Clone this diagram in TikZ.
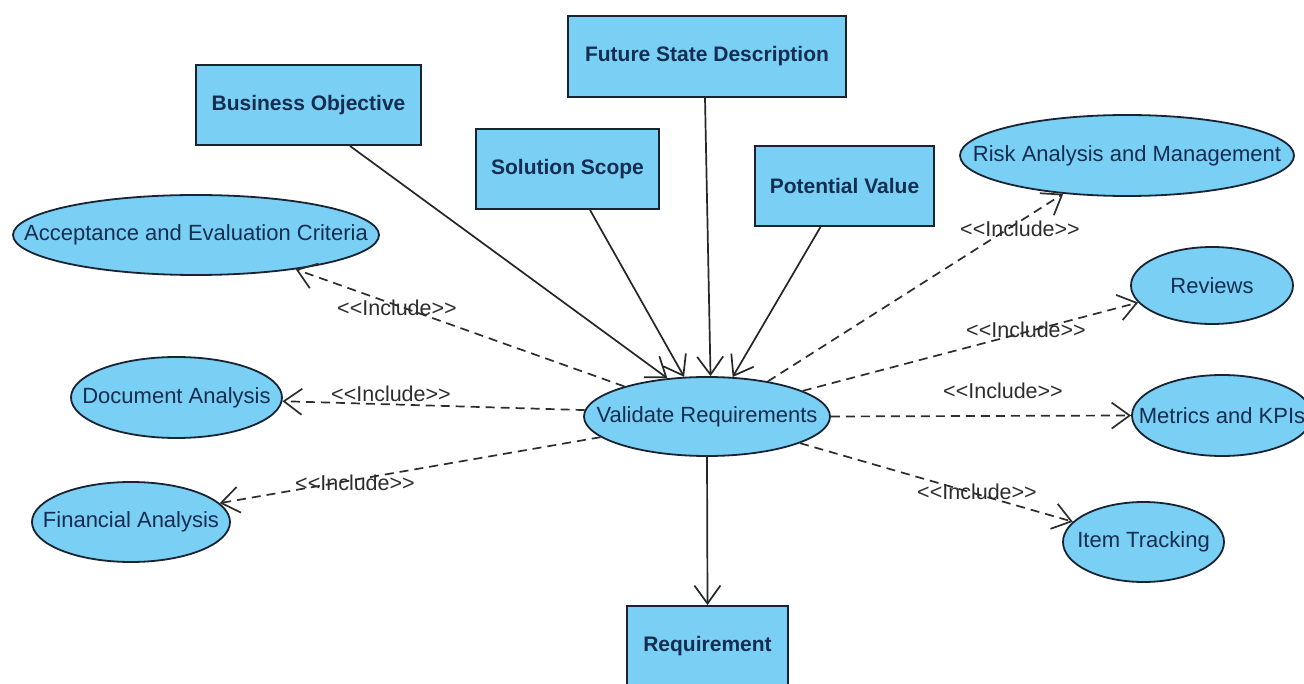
\documentclass[tikz,border=0pt]{standalone}
\usepackage{fontspec}
\setmainfont{Liberation Sans}[Ligatures=TeXOff]
\usetikzlibrary{shapes.geometric,arrows.meta}
\definecolor{ucfill}{RGB}{122,207,245}
\definecolor{ucline}{RGB}{25,35,50}
\definecolor{uctext}{RGB}{20,45,80}
\definecolor{linkgray}{RGB}{45,45,45}
% centred text that does not widen its ellipse
\newcommand\ctext[1]{\makebox[0pt]{#1}}

\begin{document}
\begin{tikzpicture}[x=1pt,y=-1pt,
  every node/.style={font=\fontsize{21.5}{24}\selectfont},
  box/.style={draw=ucline,line width=2pt,fill=ucfill,rectangle,inner sep=0pt,
    text=uctext,font=\fontsize{21}{24}\selectfont\bfseries},
  usecase/.style={draw=ucline,line width=1.8pt,fill=ucfill,ellipse,inner sep=0pt,
    text=uctext,font=\fontsize{22}{24}\selectfont},
  assoc/.style={draw=black!85,line width=1.7pt,-{Straight Barb[length=18pt,width=26pt]}},
  incl/.style={draw=linkgray,line width=1.7pt,dash pattern=on 9pt off 6pt,
    -{Straight Barb[length=18pt,width=26pt]}},
  incltext/.style={text=linkgray,inner sep=0pt}]

\useasboundingbox (0,0) rectangle (1304,684);
\fill[white] (0,0) rectangle (1304,684);

% classes
\node[box,minimum width=225,minimum height=80] (bo)  at (308.5,105) {Business Objective};
\node[box,minimum width=278,minimum height=81] (fsd) at (707,56.5)  {Future State Description};
\node[box,minimum width=183,minimum height=80] (ss)  at (567.5,169) {Solution Scope};
\node[box,minimum width=179,minimum height=80] (pv)  at (844.5,186) {Potential Value};
\node[box,minimum width=161,minimum height=80] (req) at (707.5,646) {Requirement};

% use cases
\node[usecase,minimum width=366,minimum height=80] (acc)  at (196,235)    {\ctext{Acceptance and Evaluation Criteria}};
\node[usecase,minimum width=334,minimum height=81] (risk) at (1127,155.5) {\ctext{Risk Analysis and Management}};
\node[usecase,minimum width=162,minimum height=77] (rev)  at (1212,285.5) {\ctext{Reviews}};
\node[usecase,minimum width=211,minimum height=81] (doc)  at (176.5,397.5) {\ctext{Document Analysis}};
\node[usecase,minimum width=246,minimum height=79] (val)  at (707,416.5)  {\ctext{Validate Requirements}};
\node[usecase,minimum width=180,minimum height=81] (met)  at (1222,415.5) {\ctext{Metrics and KPIs}};
\node[usecase,minimum width=198,minimum height=80] (fin)  at (131,522)    {\ctext{Financial Analysis}};
\node[usecase,minimum width=161,minimum height=80] (item) at (1143.5,542)  {\ctext{Item Tracking}};

% associations
\draw[assoc] ([xshift=41.5]bo.south) -- (val.136);
\draw[assoc] ([xshift=22.5]ss.south) -- (val.120);
\draw[assoc] ([xshift=-2]fsd.south)  -- (val.85);
\draw[assoc] ([xshift=-24]pv.south)  -- (val.57);
\draw[assoc] (val.south) -- (req.north);

% include relations
\draw[incl] (val.160) -- (acc.-19);
\draw[incl] (val.177) -- (doc.-2);
\draw[incl] (val.191) -- (fin.12);
\draw[incl] (val.30)  -- (risk.211);
\draw[incl] (val.15)  -- (rev.193);
\draw[incl] (val.east) -- (met.west);
\draw[incl] (val.344) -- (item.164);

% stereotype labels
\node[incltext] (lacc)  at (397,308)  {<<Include>>};
\node[incltext] (ldoc)  at (391,394)  {<<Include>>};
\node[incltext] (lfin)  at (355,483)  {<<Include>>};
\node[incltext] (lrisk) at (1020,229) {<<Include>>};
\node[incltext] (lrev)  at (1026,330) {<<Include>>};
\node[incltext] (lmet)  at (1003,391) {<<Include>>};
\node[incltext] (litem) at (977,492)  {<<Include>>};
\end{tikzpicture}
\end{document}
